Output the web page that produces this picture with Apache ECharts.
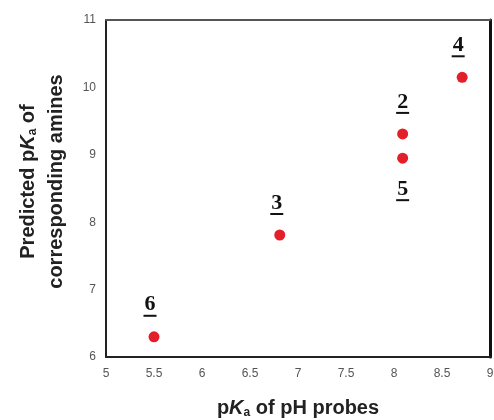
<!DOCTYPE html>
<html><head><meta charset="utf-8">
<script src="https://cdn.jsdelivr.net/npm/echarts@6/dist/echarts.min.js"></script>
<style>html,body{margin:0;padding:0;background:#fff}#c{width:494px;height:420px}</style>
</head><body><div id="c"></div>
<script>
const probeLabels = ['6', '3', '2', '5', '4'];
const probePKa = [5.5, 6.81, 8.09, 8.09, 8.71];
const aminePKa = [6.30, 7.81, 9.31, 8.95, 10.15];
const xTicks = [5, 5.5, 6, 6.5, 7, 7.5, 8, 8.5, 9];
const yTicks = [6, 7, 8, 9, 10, 11];
const labelBelow = ['5'];

const chart = echarts.init(document.getElementById('c'));
const labelDx = {'6': -4, '3': -3, '2': 0, '5': 0, '4': -4};
const data = probeLabels.map((n, i) => ({
  value: [probePKa[i], aminePKa[i]],
  name: n,
  label: labelBelow.includes(n)
    ? {position: 'bottom', distance: 16, offset: [labelDx[n], 0]}
    : {position: 'top', distance: 14, offset: [labelDx[n], 0]}
}));
const tickFont = {color: '#555', fontSize: 12, fontFamily: 'Liberation Sans'};
const titleRich = {
  t: {fontSize: 20, fontWeight: 'bold', fontFamily: 'Liberation Sans', color: '#222'},
  k: {fontSize: 20, fontWeight: 'bold', fontStyle: 'italic', fontFamily: 'Liberation Sans', color: '#222'},
  s: {fontSize: 12, fontWeight: 'bold', fontFamily: 'Liberation Sans', color: '#222', padding: [10, 0, 0, 0]}
};
chart.setOption({
  animation: false,
  backgroundColor: '#fff',
  grid: {left: 106, right: 4, top: 20, bottom: 63, containLabel: false, outerBoundsMode: 'none'},
  xAxis: [{
    type: 'value', min: xTicks[0], max: xTicks[xTicks.length - 1], interval: 0.5,
    axisLine: {show: true, lineStyle: {color: '#222', width: 2}},
    axisTick: {show: false}, splitLine: {show: false},
    axisLabel: Object.assign({margin: 11}, tickFont),
    name: '{t|p}{k|K}{s|a}{t| of pH probes}', nameLocation: 'middle', nameGap: 40,
    nameTextStyle: {rich: titleRich}
  }, {
    type: 'value', position: 'top', min: xTicks[0], max: xTicks[xTicks.length - 1],
    axisLine: {show: true, lineStyle: {color: '#555', width: 2}},
    axisTick: {show: false}, axisLabel: {show: false}, splitLine: {show: false}
  }],
  yAxis: [{
    type: 'value', min: yTicks[0], max: yTicks[yTicks.length - 1], interval: 1,
    axisLine: {show: true, lineStyle: {color: '#222', width: 2}},
    axisTick: {show: false}, splitLine: {show: false},
    axisLabel: Object.assign({margin: 10}, tickFont),
    name: '{t|Predicted p}{k|K}{s|a}{t| of}\n{t|corresponding amines}',
    nameLocation: 'middle', nameGap: 36, nameRotate: 90,
    nameTextStyle: {rich: titleRich, lineHeight: 28, align: 'center', padding: [0, 0, 0, 14]}
  }, {
    type: 'value', position: 'right', min: yTicks[0], max: yTicks[yTicks.length - 1],
    axisLine: {show: true, lineStyle: {color: '#111', width: 3}},
    axisTick: {show: false}, axisLabel: {show: false}, splitLine: {show: false}
  }],
  series: [{
    type: 'scatter', symbol: 'circle', symbolSize: 11,
    itemStyle: {color: '#e3202a', opacity: 1},
    data: data,
    label: {
      show: true,
      formatter: p => '{n|' + p.name + '}\n{u|}',
      rich: {
        n: {fontFamily: 'Liberation Serif', fontWeight: 'bold', fontSize: 22, color: '#111', lineHeight: 19},
        u: {width: 13, height: 2, backgroundColor: '#111', lineHeight: 3}
      }
    }
  }]
});
</script></body></html>
